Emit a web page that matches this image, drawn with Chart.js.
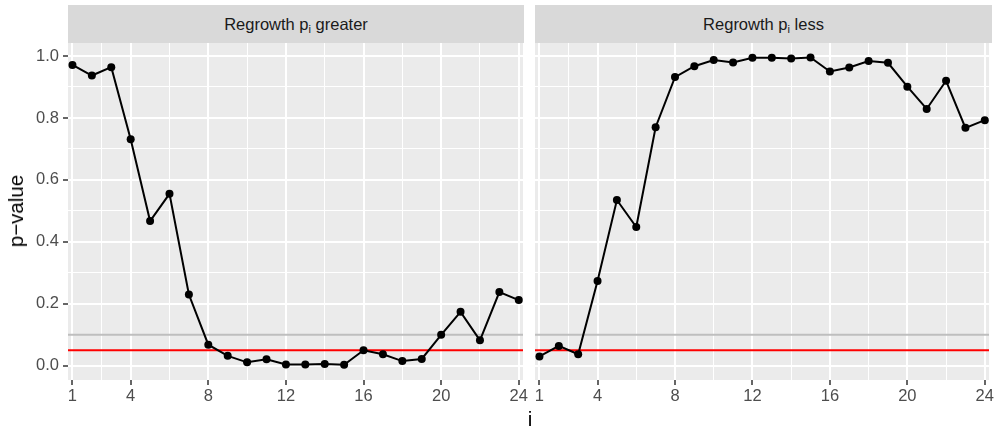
<!DOCTYPE html>
<html>
<head>
<meta charset="utf-8">
<script src="https://cdn.jsdelivr.net/npm/chart.js@4"></script>
<style>
  body { margin: 0; background: #ffffff; font-family: "Liberation Sans", Arial, sans-serif; }
  #wrap { position: relative; width: 996px; height: 427px; overflow: hidden; }
  canvas { position: absolute; top: 0; }
  .strip {
    position: absolute; top: 5px; height: 38px; background: #d9d9d9;
    color: #1a1a1a; font-size: 16.5px; line-height: 38px; text-align: center;
  }
  .strip sub { font-size: 11px; vertical-align: -3px; line-height: 0; }
  #ytitle {
    position: absolute; left: 16px; top: 211px; font-size: 20.5px; color: #000;
    transform: translate(-50%, -50%) rotate(-90deg); white-space: nowrap;
  }
  #xtitle {
    position: absolute; left: 530px; top: 419px; font-size: 20.5px; color: #000;
    transform: translate(-50%, -50%);
  }
</style>
</head>
<body>
<div id="wrap">
  <canvas id="leftPanel" width="530" height="427" style="left:0px"></canvas>
  <canvas id="rightPanel" width="466" height="427" style="left:530px"></canvas>
  <div class="strip" style="left:68px; width:456px;">Regrowth p<sub>i</sub> greater</div>
  <div class="strip" style="left:535px; width:457px;">Regrowth p<sub>i</sub> less</div>
  <div id="ytitle">p&#8722;value</div>
  <div id="xtitle">i</div>
</div>
<script>
// DATA
const panelTitles = ["Regrowth p_i greater", "Regrowth p_i less"];
const steps = [1, 2, 3, 4, 5, 6, 7, 8, 9, 10, 11, 12, 13, 14, 15, 16, 17, 18, 19, 20, 21, 22, 23, 24];
const pGreater = [0.971, 0.937, 0.964, 0.731, 0.467, 0.555, 0.23, 0.068, 0.032, 0.011, 0.021, 0.004,
                  0.004, 0.006, 0.003, 0.05, 0.037, 0.015, 0.022, 0.1, 0.174, 0.082, 0.238, 0.212];
const pLess = [0.03, 0.064, 0.037, 0.274, 0.535, 0.448, 0.77, 0.932, 0.967, 0.987, 0.979, 0.994,
               0.994, 0.992, 0.995, 0.95, 0.963, 0.984, 0.978, 0.901, 0.829, 0.92, 0.768, 0.793];
const xMajor = [1, 4, 8, 12, 16, 20, 24];
const xMinor = [2.5, 6, 10, 14, 18, 22];
const yMajor = [0, 0.2, 0.4, 0.6, 0.8, 1.0];
const yMinor = [0.1, 0.3, 0.5, 0.7, 0.9];
const refGray = 0.1;   // grey reference line
const refRed = 0.05;   // red significance line
const X_MIN = 0.77, X_MAX = 24.22;
const Y_MIN = -0.046, Y_MAX = 1.042;

// panel background, drawn before the grid
const panelBg = {
    id: "panelBg",
    beforeDraw(chart) {
        const a = chart.chartArea;
        const ctx = chart.ctx;
        ctx.save();
        ctx.fillStyle = "#ebebeb";
        ctx.fillRect(a.left, a.top, a.right - a.left, a.bottom - a.top);
        ctx.restore();
    }
};

function tickList(major, minor) {
    return major.map(v => ({ value: v, minor: false }))
        .concat(minor.map(v => ({ value: v, minor: true })))
        .sort((a, b) => a.value - b.value);
}

const gridWidth = ctx => (ctx.tick && ctx.tick.minor) ? 1 : 2;
const tickMarkColor = ctx => (ctx.tick && ctx.tick.minor) ? "rgba(0,0,0,0)" : "#333333";

function refLine(value, color) {
    return {
        data: [{ x: X_MIN, y: value }, { x: X_MAX, y: value }],
        borderColor: color,
        borderWidth: 2,
        pointRadius: 0,
        order: 2
    };
}

function makePanel(canvasId, values, showY) {
    const ctx = document.getElementById(canvasId).getContext("2d");
    return new Chart(ctx, {
        type: "line",
        data: {
            datasets: [
                {
                    data: steps.map((s, i) => ({ x: s, y: values[i] })),
                    borderColor: "#000000",
                    borderWidth: 2,
                    pointRadius: 4,
                    pointBackgroundColor: "#000000",
                    pointBorderWidth: 0,
                    tension: 0,
                    order: 1
                },
                refLine(refGray, "#bebebe"),
                refLine(refRed, "#ff0000")
            ]
        },
        options: {
            responsive: false,
            animation: false,
            devicePixelRatio: 1,
            layout: { padding: { left: showY ? 0 : 5, right: showY ? 6 : 4, top: 43, bottom: 0 } },
            plugins: { legend: { display: false }, tooltip: { enabled: false } },
            scales: {
                x: {
                    type: "linear",
                    min: X_MIN,
                    max: X_MAX,
                    afterBuildTicks: scale => { scale.ticks = tickList(xMajor, xMinor); },
                    afterFit: scale => { scale.height = 47; },
                    border: { display: false },
                    grid: {
                        color: "#ffffff",
                        lineWidth: gridWidth,
                        drawTicks: true,
                        tickLength: 5,
                        tickWidth: 1.5,
                        tickColor: tickMarkColor
                    },
                    ticks: {
                        autoSkip: false,
                        maxRotation: 0,
                        padding: 2,
                        color: "#4d4d4d",
                        font: { family: "Liberation Sans, Arial, sans-serif", size: 16.5 },
                        callback: v => xMajor.includes(v) ? String(v) : ""
                    }
                },
                y: {
                    type: "linear",
                    min: Y_MIN,
                    max: Y_MAX,
                    afterBuildTicks: scale => { scale.ticks = tickList(yMajor, yMinor); },
                    afterFit: scale => { scale.width = showY ? 68 : 0; },
                    border: { display: false },
                    grid: {
                        color: "#ffffff",
                        lineWidth: gridWidth,
                        drawTicks: showY,
                        tickLength: 5,
                        tickWidth: 1.5,
                        tickColor: tickMarkColor
                    },
                    ticks: {
                        display: showY,
                        autoSkip: false,
                        padding: 4,
                        color: "#4d4d4d",
                        font: { family: "Liberation Sans, Arial, sans-serif", size: 16.5 },
                        callback: v => yMajor.includes(v) ? v.toFixed(1) : ""
                    }
                }
            }
        },
        plugins: [panelBg]
    });
}

makePanel("leftPanel", pGreater, true);
makePanel("rightPanel", pLess, false);
</script>
</body>
</html>
